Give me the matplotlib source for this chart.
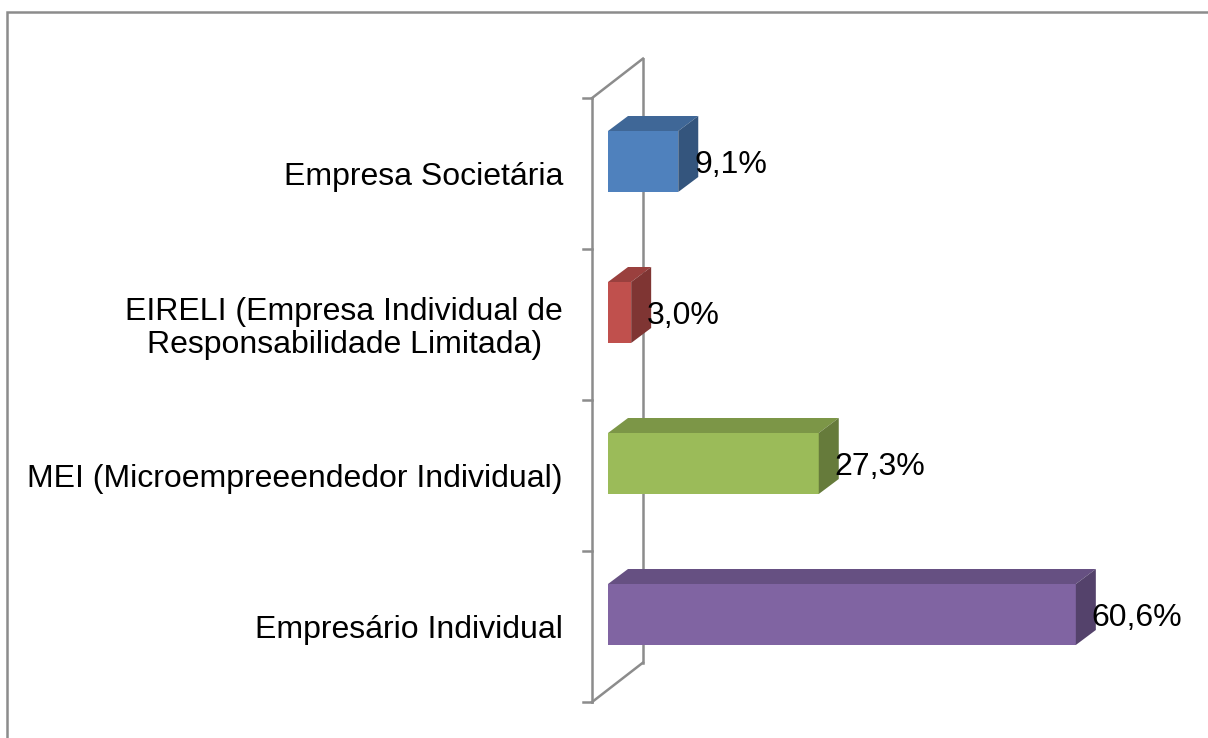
import matplotlib.pyplot as plt
from matplotlib.patches import Polygon, Rectangle
import matplotlib.colors as mcolors

plt.rcParams['font.family'] = ['Liberation Sans', 'DejaVu Sans']

categories = ["Empresa Societária",
              "EIRELI (Empresa Individual de\nResponsabilidade Limitada)",
              "MEI (Microempreeendedor Individual)",
              "Empresário Individual"]
values = [9.1, 3.0, 27.3, 60.6]
value_labels = ["9,1%", "3,0%", "27,3%", "60,6%"]
colors = ["#4F81BD", "#C0504D", "#9BBB59", "#8064A2"]

# layout in pixels (figure is 1208 x 738 at 100 dpi)
W, H = 1208, 738
x0_px, px_per_pct = 608, 7.72
y0_px, px_per_cat = 161.5, 151


def shade(c, f):
    r, g, b = mcolors.to_rgb(c)
    return (r * f, g * f, b * f)


fig = plt.figure(figsize=(W / 100, H / 100), dpi=100)
ax = fig.add_axes([0, 0, 1, 1])
ax.set_xlim(-x0_px / px_per_pct, (W - x0_px) / px_per_pct)
ax.set_ylim((H - y0_px) / px_per_cat, -y0_px / px_per_cat)
ax.axis('off')

# chart border (cut off at right/bottom like the original)
fig.patches.append(Rectangle((7 / W, -0.1), 1.2, 1 - 12 / H + 0.1, transform=fig.transFigure,
                             fill=False, edgecolor='#8c8c8c', lw=1.8))

# axis wall
gray = '#8c8c8c'
lw = 1.8
xf = (592 - x0_px) / px_per_pct
ktop, kbot = -0.42, 3.58
wdx, wdy = 51 / px_per_pct, -39.5 / px_per_cat
ax.plot([xf, xf], [ktop, kbot], color=gray, lw=lw, zorder=1)
ax.plot([xf + wdx, xf + wdx], [ktop + wdy, kbot + wdy], color=gray, lw=lw, zorder=0.5)
ax.plot([xf, xf + wdx], [ktop, ktop + wdy], color=gray, lw=lw, zorder=1)
ax.plot([xf, xf + wdx], [kbot, kbot + wdy], color=gray, lw=lw, zorder=1)
for j in range(len(categories) + 1):
    ax.plot([xf - 9 / px_per_pct, xf], [ktop + j, ktop + j], color=gray, lw=lw, zorder=1)

# 3D bars
bh = 61 / px_per_cat
ddx, ddy = 20 / px_per_pct, -15 / px_per_cat
for i, (v, c) in enumerate(zip(values, colors)):
    ax.barh(i, v, height=bh, color=c, edgecolor='none', zorder=2)
    t, b = i - bh / 2, i + bh / 2
    ax.add_patch(Polygon([(0, t), (v, t), (v + ddx, t + ddy), (ddx, t + ddy)],
                         closed=True, facecolor=shade(c, 0.8), edgecolor='none', zorder=2))
    ax.add_patch(Polygon([(v, t), (v, b), (v + ddx, b + ddy), (v + ddx, t + ddy)],
                         closed=True, facecolor=shade(c, 0.66), edgecolor='none', zorder=2))
    ax.text(v + 16 / px_per_pct, i + 0.02, value_labels[i], fontsize=23, va='center', ha='left', zorder=3)

# category labels
for i, cat in enumerate(categories):
    ax.text((563 - x0_px) / px_per_pct, i + 0.105, cat, fontsize=23, ha='right', va='center',
            multialignment='center', linespacing=1.1)

fig.savefig('out.png', dpi=100)
